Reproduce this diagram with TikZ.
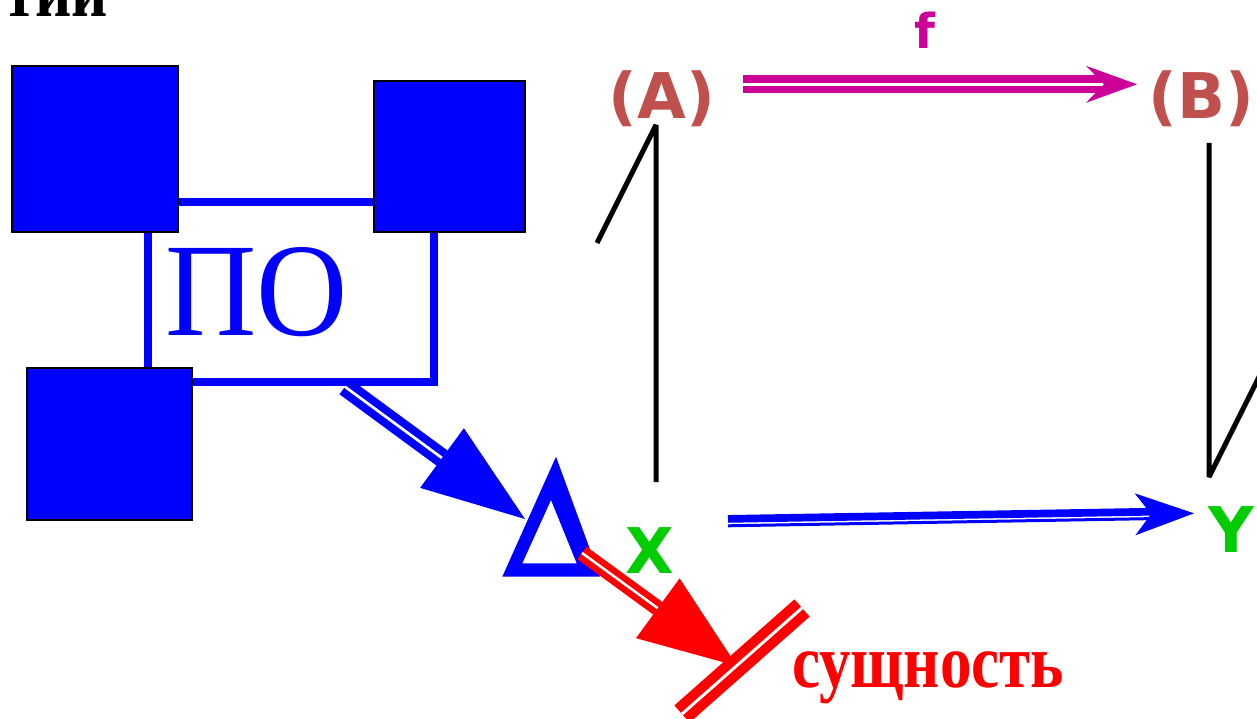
\documentclass[tikz,border=0pt]{standalone}
\usepackage{fontspec}
\setmainfont{Liberation Serif}
\newfontfamily\condserif{Liberation Serif}[FakeStretch=0.83]
\newfontfamily\poserif{Liberation Serif}[FakeStretch=0.95]
\newfontfamily\dvs{DejaVu Sans}
\usetikzlibrary{arrows.meta,calc}
\definecolor{pblue}{RGB}{0,0,255}
\definecolor{pred}{RGB}{255,0,0}
\definecolor{pgreen}{RGB}{0,204,0}
\definecolor{pbrown}{RGB}{192,80,77}
\definecolor{pmag}{RGB}{204,0,153}
\tikzset{
  sqbox/.style={draw=black, line width=1.5pt, fill=pblue, inner sep=0pt},
  pobox/.style={draw=pblue, line width=7.5pt, inner sep=0pt, minimum width=286pt, minimum height=180pt},
  lbl/.style={inner sep=0pt, outer sep=0pt},
  sanslbl/.style={lbl, font=\dvs\bfseries\fontsize{63}{70}\selectfont},
  harp/.style={draw=black, line width=5pt, line join=bevel},
  bluedbl/.style={draw=pblue, line width=8pt, double=white, double distance=2.7pt,
    -{Triangle[length=103pt,width=74pt,line width=0pt]}},
  reddbl/.style={draw=pred, line width=6.5pt, double=white, double distance=2.5pt,
    -{Triangle[length=98pt,width=74pt,line width=0pt]}},
  redbar/.style={draw=pred, line width=10pt, double=white, double distance=3pt},
  magline/.style={draw=pmag, line width=7.3pt, double=white, double distance=3.3pt,
    -{Stealth[length=51pt,width=37pt,inset=18pt,line width=0pt]}},
  xyhead/.style={draw=pblue, line width=0.5pt, -{Stealth[length=59pt,width=42pt,inset=16pt,line width=0pt]}},
}
\begin{document}
\begin{tikzpicture}[x=1pt,y=-1pt]
\useasboundingbox (0,0) rectangle (1257,719);
\clip (0,0) rectangle (1257,719);

% left part
\node[pobox] (box) at (291,292) {};
\node[sqbox, minimum width=166pt, minimum height=166pt] (s1) at (95,149) {};
\node[sqbox, minimum width=151pt, minimum height=151pt] (s2) at (449.5,156.5) {};
\node[sqbox, minimum width=165pt, minimum height=152pt] (s3) at (109.5,444) {};
\node[lbl, anchor=base, text=pblue, font=\poserif\fontsize{133}{140}\selectfont] (po) at (256.5,335) {ПО};

\node[lbl, anchor=base east, text=black, font=\condserif\bfseries\fontsize{76}{80}\selectfont] (top) at (108,17) {тии};

% Delta
\fill[pblue, even odd rule] (502.3,576.7) -- (556,456.7) -- (600,576.7) -- cycle
  (522.3,563.3) -- (551,500) -- (576.7,563.3) -- cycle;
\coordinate (dl) at (525,519);
\coordinate (dr) at (582,553);

\node[lbl, anchor=base west, text=pred, font=\condserif\bfseries\fontsize{76}{80}\selectfont] (ess) at (792,687) {сущность};

% labels right
\node[sanslbl, anchor=base, text=pbrown] (A) at (662,119) {(A)};
\node[sanslbl, anchor=base, text=pbrown] (B) at (1201,119) {(B)};
\node[sanslbl, anchor=base, text=pgreen] (X) at (649.5,573) {X};
\node[sanslbl, anchor=base, text=pgreen] (Y) at (1231,552) {Y};
\node[lbl, anchor=base, text=pmag, font=\dvs\bfseries\fontsize{48}{52}\selectfont] (f) at (925,49) {f};

% connectors
\coordinate (pa) at ($(box.south)+(54,1)$);
\draw[bluedbl] (pa) -- (dl);

\coordinate (rt) at (737,666);
\draw[reddbl] (dr) -- (rt);
\coordinate (bar1) at (682,714);
\coordinate (bar2) at (802,608);
\draw[redbar] (bar1) -- (bar2);

\coordinate (ma) at (743,84.3);
\coordinate (mb) at (1137,84.3);
\draw[magline] (ma) -- (mb);

\coordinate (xs) at (728,521.2);
\coordinate (ytip) at (1194,513.3);
\draw[draw=pblue, line width=7.7pt, shorten >=38pt, transform canvas={yshift=2.3pt}] (xs) -- (ytip);
\draw[draw=pblue, line width=3pt, shorten >=38pt, transform canvas={yshift=-4.6pt}] (xs) -- (ytip);
\draw[xyhead] (xs) -- (ytip);

\coordinate (a1) at (656,482);
\coordinate (a2) at (656,125);
\coordinate (a3) at (597,243);
\draw[harp] (a1) -- (a2) -- (a3);
\coordinate (b1) at (1209,143);
\coordinate (b2) at (1209,477);
\coordinate (b3) at (1268,359);
\draw[harp] (b1) -- (b2) -- (b3);
\end{tikzpicture}
\end{document}
